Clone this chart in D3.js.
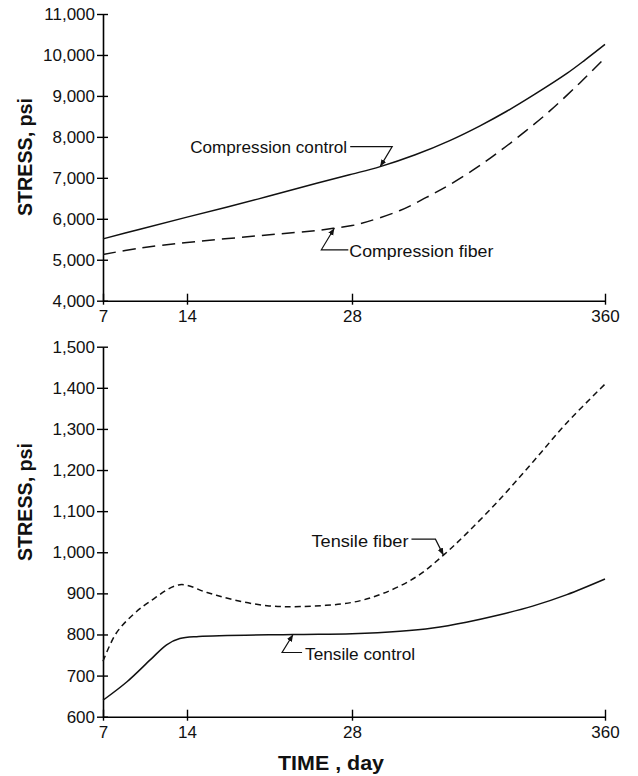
<!DOCTYPE html>
<meta charset="utf-8">
<script src="https://d3js.org/d3.v7.min.js"></script>
<style>
  body { margin: 0; background: #fff; }
  text { font-family: "Liberation Sans Narrow", "Liberation Sans", Arial, sans-serif; fill: #111; }
</style>
<div id="my_dataviz"></div>

<script>
// x positions of the day ticks are not proportional in the original, so the
// scale is piecewise linear between them
var timeTicks = [7, 14, 28, 360];
var compTicks = [4000, 5000, 6000, 7000, 8000, 9000, 10000, 11000];
var tensTicks = [600, 700, 800, 900, 1000, 1100, 1200, 1300, 1400, 1500];

// [day, psi]
var compControl = [[7,5510],[10,5740],[14,6040],[20,6480],[25,6870],[28,7090],[65,7274],[111,7563],[157,7916],[196,8270],[231,8625],[268,9043],[310,9550],[334,9880],[360,10257]];
var compFiber = [[7,5130],[10,5280],[14,5420],[21,5610],[25,5715],[26.5,5770],[28,5835],[38.5,5877],[91,6203],[134,6604],[157,6840],[192,7253],[222,7653],[257,8159],[288,8640],[327,9317],[360,9929]];
var tensControl = [[7,640],[9,685],[11,740],[12.3,775],[13.4,790],[15,795],[23,800],[28,802],[91,808],[134,816],[178,830],[222,848],[265,869],[310,897],[360,935]];
var tensFiber = [[7,735],[8.1,803],[9.5,848],[10.9,880],[13.4,921],[15.7,902],[18,884],[20.8,870],[23.6,868],[28,878],[69,900],[113,941],[148,993],[178.5,1046],[222,1129],[266,1221],[310,1315],[360,1409]];

var W = 638, H = 776;
var left = 103;

var svg = d3.select("#my_dataviz")
  .append("svg")
  .attr("width", W)
  .attr("height", H);

var defs = svg.append("defs");
defs.append("marker")
  .attr("id", "arr")
  .attr("viewBox", "0 0 10 10")
  .attr("refX", 10).attr("refY", 5)
  .attr("markerWidth", 7).attr("markerHeight", 7)
  .attr("markerUnits", "userSpaceOnUse")
  .attr("orient", "auto")
  .append("path")
  .attr("d", "M0,1L10,5L0,9Z")
  .attr("fill", "#111");

var x = d3.scaleLinear()
  .domain(timeTicks)
  .range([0, 84, 249, 502]);

function makePanel(cfg) {
  var g = svg.append("g").attr("transform", "translate(" + left + ",0)");

  var y = d3.scaleLinear()
    .domain(cfg.domain)
    .range(cfg.range);

  // x axis
  var xa = g.append("g")
    .attr("transform", "translate(0," + cfg.range[0] + ")")
    .call(d3.axisBottom(x).tickValues(timeTicks).tickFormat(d3.format("d")).tickSizeOuter(0));
  xa.select(".domain").attr("stroke-width", 1.6);
  xa.selectAll(".tick line").attr("y1", -7).attr("y2", 4).attr("stroke-width", 1.4);
  xa.selectAll(".tick text").attr("y", 9).attr("font-size", 17)
    .style("font-family", "'Liberation Sans', Arial, sans-serif");

  // y axis
  var ya = g.append("g")
    .call(d3.axisLeft(y).tickValues(cfg.ticks).tickFormat(d3.format(",")).tickSizeOuter(0));
  ya.select(".domain").attr("stroke-width", 1.6);
  ya.selectAll(".tick line").attr("x1", 5).attr("x2", -6).attr("stroke-width", 1.4);
  ya.selectAll(".tick text").attr("x", -8).attr("font-size", 17)
    .style("font-family", "'Liberation Sans', Arial, sans-serif");
  ya.selectAll("text").attr("fill", "#111");
  xa.selectAll("text").attr("fill", "#111");

  var line = d3.line()
    .x(d => x(d[0]))
    .y(d => y(d[1]))
    .curve(d3.curveCatmullRom.alpha(0.5));

  cfg.series.forEach(function(s) {
    g.append("path")
      .datum(s.data)
      .attr("fill", "none")
      .attr("stroke", "#111")
      .attr("stroke-width", 1.5)
      .attr("stroke-dasharray", s.dash)
      .attr("d", line);
  });

  // label with leader line, anchored to a point on the curve
  cfg.notes.forEach(function(n) {
    var tx = x(n.at[0]), ty = y(n.at[1]);
    var pts = n.path.map(p => [tx + p[0], ty + p[1]]);
    pts.push([tx, ty]);
    g.append("path")
      .attr("d", d3.line()(pts))
      .attr("fill", "none")
      .attr("stroke", "#111")
      .attr("stroke-width", 1.2)
      .attr("marker-end", "url(#arr)");
    g.append("text")
      .attr("x", tx + n.text[0])
      .attr("y", ty + n.text[1])
      .attr("text-anchor", n.anchor)
      .attr("font-size", 17)
      .attr("textLength", n.len)
      .attr("lengthAdjust", "spacingAndGlyphs")
      .text(n.label);
  });

  svg.append("text")
    .attr("transform", "translate(32," + cfg.labelY + ") rotate(-90)")
    .attr("text-anchor", "middle")
    .attr("font-size", 21)
    .attr("font-weight", "bold")
    .attr("textLength", 118)
    .attr("lengthAdjust", "spacingAndGlyphs")
    .text("STRESS, psi");
}

makePanel({
  domain: [4000, 11000],
  range: [300.7, 14],
  ticks: compTicks,
  labelY: 157,
  series: [
    {data: compControl, dash: null},
    {data: compFiber, dash: "13,7"}
  ],
  notes: [
    {at: [65, 7274], path: [[-30, -20], [12, -20]], text: [-33, -14], anchor: "end", len: 157, label: "Compression  control"},
    {at: [26.5, 5770], path: [[14, 21.6], [-13, 21.6]], text: [15, 29], anchor: "start", len: 144, label: "Compression  fiber"}
  ]
});

makePanel({
  domain: [600, 1500],
  range: [716.7, 346.7],
  ticks: tensTicks,
  labelY: 502,
  series: [
    {data: tensControl, dash: null},
    {data: tensFiber, dash: "6,4"}
  ],
  notes: [
    {at: [148, 993], path: [[-32, -16], [-8, -16]], text: [-35, -8.5], anchor: "end", len: 97, label: "Tensile  fiber"},
    {at: [23, 800], path: [[9, 18], [-11, 18]], text: [12, 25.5], anchor: "start", len: 110, label: "Tensile  control"}
  ]
});

svg.append("text")
  .attr("x", 331)
  .attr("y", 770)
  .attr("text-anchor", "middle")
  .attr("font-size", 20)
  .attr("font-weight", "bold")
  .attr("textLength", 106)
  .attr("lengthAdjust", "spacingAndGlyphs")
  .text("TIME , day");
</script>
